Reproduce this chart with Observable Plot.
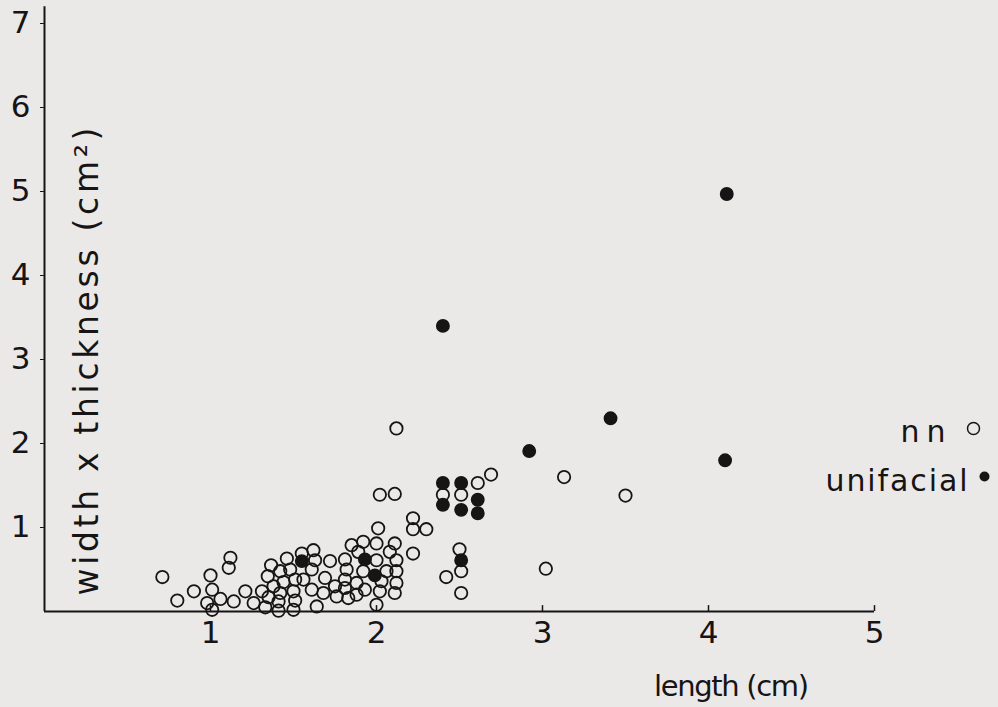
<!DOCTYPE html>
<html>
<head>
<meta charset="utf-8">
<script src="https://cdn.jsdelivr.net/npm/d3@7"></script>
<script src="https://cdn.jsdelivr.net/npm/@observablehq/plot@0.6"></script>
<style>
  html, body { margin: 0; padding: 0; background: #ebe8e8; }
  #chart svg { display: block; }
</style>
</head>
<body>
<div id="chart"></div>
<script>
// "nn" (open circles): length (cm), width x thickness (cm²)
const nnLength = [0.71,0.80,0.90,1.00,1.01,0.98,1.06,1.01,1.12,1.11,1.14,1.21,1.26,1.31,1.33,1.345,1.365,1.38,1.35,1.42,1.46,1.48,1.44,1.42,1.41,1.41,1.51,1.50,1.51,1.50,1.55,1.56,1.61,1.62,1.63,1.61,1.64,1.68,1.69,1.72,1.75,1.76,1.81,1.82,1.81,1.81,1.83,1.85,1.89,1.92,1.92,1.88,1.93,1.88,2.00,2.00,2.06,2.03,2.02,2.00,2.11,2.08,2.12,2.12,2.12,2.11,2.01,2.02,2.11,2.12,2.22,2.22,2.30,2.22,2.40,2.51,2.61,2.69,2.50,2.51,2.51,2.42,3.13,3.50,3.02];
const nnArea   = [0.41,0.13,0.24,0.43,0.26,0.10,0.15,0.02,0.64,0.52,0.12,0.24,0.10,0.24,0.05,0.42,0.55,0.30,0.17,0.48,0.63,0.50,0.35,0.22,0.12,0.01,0.38,0.24,0.13,0.02,0.69,0.38,0.50,0.73,0.61,0.26,0.06,0.22,0.40,0.60,0.30,0.18,0.62,0.50,0.38,0.28,0.16,0.79,0.71,0.83,0.48,0.34,0.26,0.20,0.81,0.61,0.48,0.36,0.24,0.08,0.81,0.71,0.61,0.48,0.34,0.22,0.99,1.39,1.40,2.18,1.11,0.98,0.98,0.69,1.39,1.39,1.53,1.63,0.74,0.48,0.22,0.41,1.60,1.38,0.51];
// "unifacial" (filled circles)
const uniLength = [1.55,1.93,1.99,2.40,2.51,2.61,2.40,2.51,2.61,2.51,2.92,3.41,2.40,4.10,4.11];
const uniArea   = [0.60,0.62,0.43,1.53,1.53,1.33,1.27,1.21,1.17,0.61,1.91,2.30,3.40,1.80,4.97];

const xTicks = [1, 2, 3, 4, 5];
const yTicks = [1, 2, 3, 4, 5, 6, 7];
const xLabel = "length (cm)";
const yLabel = "width x thickness (cm²)";
const legendItems = ["nn", "unifacial"];

const nn = nnLength.map((d, i) => ({length: d, area: nnArea[i]}));
const uni = uniLength.map((d, i) => ({length: d, area: uniArea[i]}));

const ink = "#161414";
const font = "DejaVu Sans";

const chart = Plot.plot({
  width: 998,
  height: 707,
  marginLeft: 44,
  marginRight: 124,
  marginTop: 23,
  marginBottom: 96,
  style: {background: "#ebe8e8", color: ink, fontFamily: font, fontSize: "26px"},
  x: {domain: [0, 5]},
  y: {domain: [0, 7]},
  marks: [
    // axis lines
    Plot.ruleX([0], {y1: 0, y2: 7.2, stroke: ink, strokeWidth: 2}),
    Plot.ruleY([0], {x1: 0, x2: 5, stroke: ink, strokeWidth: 2}),
    // y ticks and labels
    Plot.axisY({ticks: yTicks, tickSize: 4, tickPadding: 10, tickFormat: d => d, stroke: ink, fill: ink, fontSize: 31, label: null}),
    // x ticks (upward) and labels
    Plot.ruleX(xTicks, {y1: 0, y2: 0.07, stroke: ink, strokeWidth: 1.5}),
    Plot.axisX({ticks: xTicks, tickSize: 0, tickPadding: 9, tickFormat: d => d, fill: ink, fontSize: 31, label: null}),
    // data
    Plot.dot(nn, {x: "length", y: "area", r: 6.2, stroke: ink, strokeWidth: 1.8, fill: "none"}),
    Plot.dot(uni, {x: "length", y: "area", r: 6.2, fill: ink, stroke: ink}),
    // axis titles
    Plot.text([xLabel], {frameAnchor: "bottom", text: d => d, dx: 272, dy: 84, fontSize: 29, fill: ink}),
    Plot.text([yLabel], {frameAnchor: "bottom-left", text: d => d, rotate: -90, textAnchor: "start", lineAnchor: "bottom", dx: 53, dy: -16, fontSize: 33, fill: ink}),
    // legend
    Plot.text([legendItems[0]], {frameAnchor: "top-right", text: d => d, textAnchor: "end", dx: 71, dy: 397, fontSize: 30, fill: ink}),
    Plot.dot([legendItems[0]], {frameAnchor: "top-right", dx: 99, dy: 405, r: 6, stroke: ink, strokeWidth: 1.5, fill: "none"}),
    Plot.text([legendItems[1]], {frameAnchor: "top-right", text: d => d, textAnchor: "end", dx: 93, dy: 446, fontSize: 30, fill: ink}),
    Plot.dot([legendItems[1]], {frameAnchor: "top-right", dx: 110, dy: 453, r: 5, fill: ink})
  ]
});

// stretch the hand-lettered labels to the reference's wide letter spacing
const fit = new Map([[xLabel, 155], [yLabel, 468], [legendItems[0], 45], [legendItems[1], 142]]);
d3.select(chart).selectAll("text").each(function() {
  const len = fit.get(this.textContent);
  if (len) d3.select(this).attr("textLength", len).attr("lengthAdjust", "spacing");
});

document.getElementById("chart").appendChild(chart);
</script>
</body>
</html>
